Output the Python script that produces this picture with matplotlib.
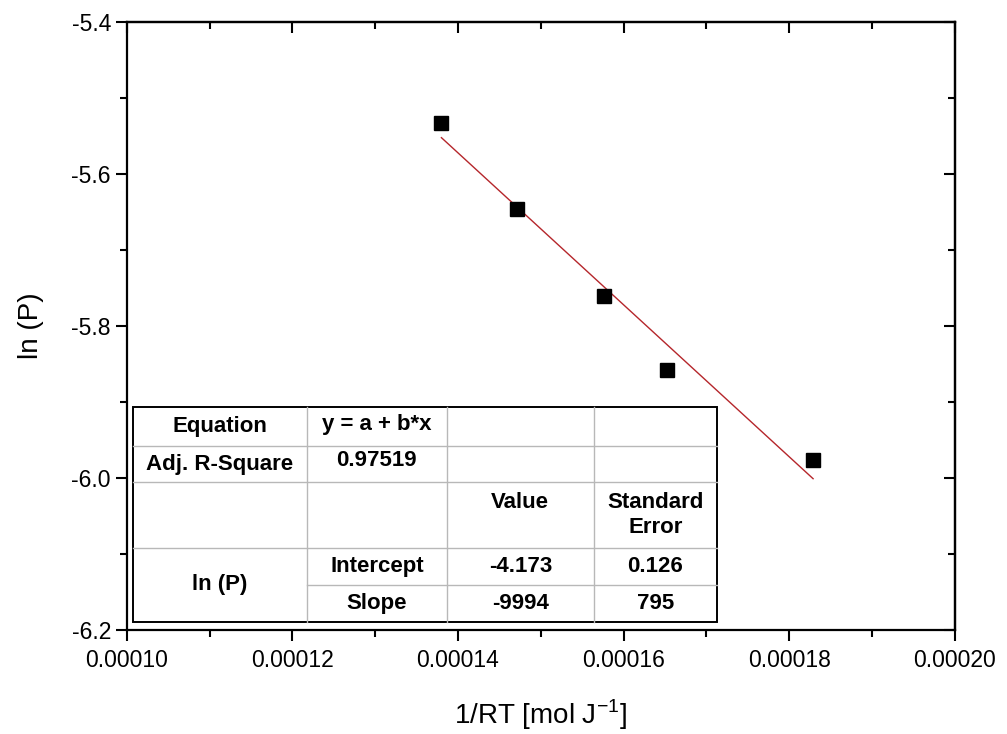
import numpy as np
import matplotlib
matplotlib.use("Agg")
import matplotlib.pyplot as plt
from matplotlib.ticker import MultipleLocator, FormatStrFormatter

plt.rcParams['font.family'] = ['Liberation Sans', 'DejaVu Sans']

# data
inv_RT = [0.0001380, 0.0001471, 0.0001576, 0.0001652, 0.0001829]
ln_P = [-5.533, -5.646, -5.760, -5.858, -5.976]

# linear fit results (from the table)
intercept = -4.173
slope = -9994
intercept_err = 0.126
slope_err = 795
adj_r2 = "0.97519"

fig = plt.figure(figsize=(10.07, 7.34), dpi=100)
ax = fig.add_axes([0.126, 0.1417, 0.822, 0.8283])

ax.plot(inv_RT, ln_P, 's', color='black', markersize=10, zorder=3)
xfit = np.array([min(inv_RT), max(inv_RT)])
ax.plot(xfit, intercept + slope * xfit, color='#b5262b', linewidth=1.0, zorder=2)

ax.set_xlim(0.00010, 0.00020)
ax.set_ylim(-6.2, -5.4)
ax.xaxis.set_major_locator(MultipleLocator(0.00002))
ax.xaxis.set_minor_locator(MultipleLocator(0.00001))
ax.yaxis.set_major_locator(MultipleLocator(0.2))
ax.yaxis.set_minor_locator(MultipleLocator(0.1))
ax.xaxis.set_major_formatter(FormatStrFormatter('%.5f'))
ax.yaxis.set_major_formatter(FormatStrFormatter('%.1f'))

for s in ax.spines.values():
    s.set_linewidth(1.6)

ax.tick_params(which='both', direction='out', width=1.5, labelsize=16.5,
               top=False, right=False)
ax.tick_params(which='major', length=8)
ax.tick_params(which='minor', length=5)
ax.tick_params(axis='x', pad=6)

# inward ticks on top and right
sec_x = ax.secondary_xaxis('top')
sec_x.xaxis.set_major_locator(MultipleLocator(0.00002))
sec_x.xaxis.set_minor_locator(MultipleLocator(0.00001))
sec_x.tick_params(which='both', direction='in', width=1.5, labeltop=False)
sec_x.tick_params(which='major', length=8)
sec_x.tick_params(which='minor', length=5)
sec_x.spines['top'].set_linewidth(1.6)
sec_y = ax.secondary_yaxis('right')
sec_y.yaxis.set_major_locator(MultipleLocator(0.2))
sec_y.yaxis.set_minor_locator(MultipleLocator(0.1))
sec_y.tick_params(which='both', direction='in', width=1.5, labelright=False)
sec_y.tick_params(which='major', length=8)
sec_y.tick_params(which='minor', length=5)
sec_y.spines['right'].set_linewidth(1.6)

ax.set_xlabel('1/RT [mol J$^{\\mathregular{-1}}$]', fontsize=20, labelpad=18)
ax.set_ylabel('ln (P)', fontsize=20, labelpad=20)

# fit result table, drawn by hand in axes fraction
tr = ax.transAxes
cols = [0.007, 0.2174, 0.3865, 0.564, 0.7126]
rows = [0.3668, 0.3026, 0.2434, 0.1349, 0.074, 0.0132]

ax.add_patch(plt.Rectangle((cols[0], rows[-1]), cols[-1] - cols[0], rows[0] - rows[-1],
                           transform=tr, facecolor='white', edgecolor='black',
                           linewidth=1.4, zorder=4))
grey = '#b8b8b8'
for yy in rows[1:4]:
    ax.plot([cols[0], cols[-1]], [yy, yy], transform=tr, color=grey, lw=1, zorder=5)
ax.plot([cols[1], cols[-1]], [rows[4], rows[4]], transform=tr, color=grey, lw=1, zorder=5)
for xx in cols[1:4]:
    ax.plot([xx, xx], [rows[-1], rows[0]], transform=tr, color=grey, lw=1, zorder=5)

fs_tab = 16

def cell_text(c, r, txt, va='center', dy=0.0):
    xc = (cols[c] + cols[c + 1]) / 2
    yc = (rows[r] + rows[r + 1]) / 2 + dy
    ax.text(xc, yc, txt, transform=tr, ha='center', va=va, fontsize=fs_tab,
            fontweight='bold', zorder=6, linespacing=1.2)

cell_text(0, 0, 'Equation')
cell_text(1, 0, 'y = a + b*x', dy=0.004)
cell_text(0, 1, 'Adj. R-Square')
cell_text(1, 1, adj_r2, dy=0.006)
cell_text(2, 2, 'Value', dy=0.02)
cell_text(3, 2, 'Standard\nError')
cell_text(1, 3, 'Intercept')
cell_text(2, 3, f'{intercept:.3f}')
cell_text(3, 3, f'{intercept_err:.3f}')
cell_text(1, 4, 'Slope')
cell_text(2, 4, f'{slope}')
cell_text(3, 4, f'{slope_err}')
ax.text((cols[0] + cols[1]) / 2, (rows[3] + rows[5]) / 2, 'ln (P)', transform=tr,
        ha='center', va='center', fontsize=fs_tab, fontweight='bold', zorder=6)

fig.savefig('out.png', dpi=100)
